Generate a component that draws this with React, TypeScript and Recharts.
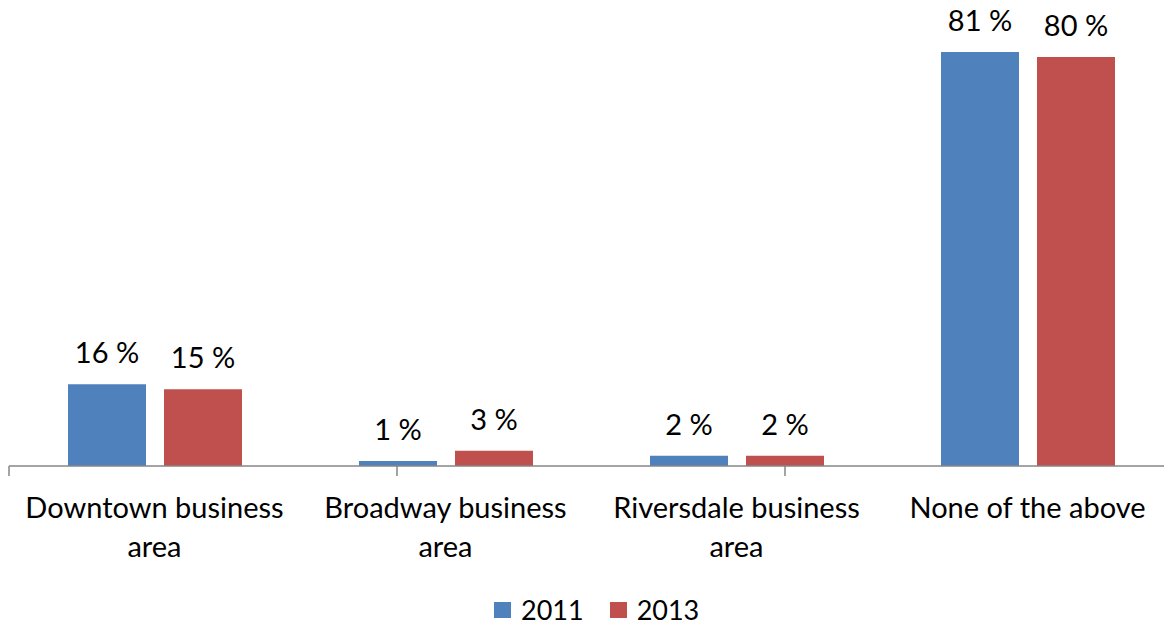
import { BarChart, Bar, XAxis, YAxis, Legend, LabelList } from 'recharts';

const categories = [
  'Downtown business area',
  'Broadway business area',
  'Riversdale business area',
  'None of the above',
];
const values2011 = [16, 1, 2, 81];
const values2013 = [15, 3, 2, 80];
const edgeTicks = [0, 1, 2, 3, 4];

const FONT = 'Lato, sans-serif';
const BLUE = '#4F81BD';
const RED = '#C0504D';
const AXIS = '#868686';

const data = categories.map((name, i) => ({
  name,
  y2011: values2011[i],
  y2013: values2013[i],
}));

// greedy wrap by character count, the axis labels are short
function wrap(label: string, maxChars = 19) {
  const lines: string[] = [];
  let cur = '';
  for (const w of label.split(' ')) {
    const next = cur ? `${cur} ${w}` : w;
    if (next.length > maxChars && cur) {
      lines.push(cur);
      cur = w;
    } else {
      cur = next;
    }
  }
  if (cur) lines.push(cur);
  return lines;
}

function CategoryTick(props: any) {
  const { x, y, payload } = props;
  const lines = wrap(String(payload.value));
  return (
    <text x={x} y={y} textAnchor="middle" fontFamily={FONT} fontSize={29} fill="#000">
      {lines.map((l, i) => (
        <tspan key={i} x={x} dy={i === 0 ? 51 : 39}>
          {l}
        </tspan>
      ))}
    </text>
  );
}

function LegendBox() {
  const items = [
    { label: '2011', color: BLUE },
    { label: '2013', color: RED },
  ];
  return (
    <div style={{ display: 'flex', paddingLeft: 494, fontFamily: FONT, fontSize: 27, lineHeight: '30px' }}>
      {items.map((it) => (
        <div key={it.label} style={{ display: 'flex', alignItems: 'center', marginRight: 26 }}>
          <span style={{ width: 17, height: 16, background: it.color, marginRight: 10 }} />
          <span>{it.label}</span>
        </div>
      ))}
    </div>
  );
}

export default function App() {
  return (
    <div style={{ position: 'absolute', left: 0, top: 0, width: 1164, height: 625, overflow: 'hidden', background: '#fff' }}>
      <BarChart
        width={1173}
        height={625}
        data={data}
        margin={{ top: 6, right: 0, left: 9, bottom: 58 }}
        barSize={78}
        barGap={18}
      >
        <YAxis hide domain={[0, 90]} />
        {/* numeric axis only for the line and the ticks between categories */}
        <XAxis
          xAxisId={0}
          type="number"
          domain={[0, 4]}
          ticks={edgeTicks}
          tickFormatter={() => ''}
          tickSize={10}
          height={1}
          stroke={AXIS}
          strokeWidth={1.5}
          allowDataOverflow
        />
        <XAxis
          xAxisId="cat"
          dataKey="name"
          axisLine={false}
          tickLine={false}
          tickSize={0}
          tickMargin={0}
          height={100}
          interval={0}
          tick={<CategoryTick />}
        />
        <Legend
          verticalAlign="middle"
          align="center"
          content={<LegendBox />}
          wrapperStyle={{ top: 595, left: 0, width: 1164 }}
        />
        <Bar xAxisId="cat" dataKey="y2011" name="2011" fill={BLUE} isAnimationActive={false}>
          <LabelList
            dataKey="y2011"
            position="top"
            offset={21}
            formatter={(v: any) => `${v} %`}
            style={{ fontFamily: FONT, fontSize: 29, fill: '#000' }}
          />
        </Bar>
        <Bar xAxisId="cat" dataKey="y2013" name="2013" fill={RED} isAnimationActive={false}>
          <LabelList
            dataKey="y2013"
            position="top"
            offset={21}
            formatter={(v: any) => `${v} %`}
            style={{ fontFamily: FONT, fontSize: 29, fill: '#000' }}
          />
        </Bar>
      </BarChart>
    </div>
  );
}
